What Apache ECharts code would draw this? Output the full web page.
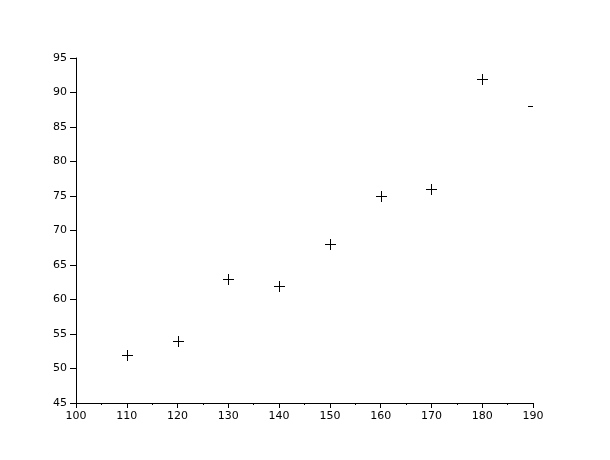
<!DOCTYPE html>
<html>
<head>
<meta charset="utf-8">
<script src="https://cdn.jsdelivr.net/npm/echarts@6/dist/echarts.min.js"></script>
<style>html,body{margin:0;padding:0;background:#fff}#c{width:610px;height:460px}</style>
</head>
<body>
<div id="c"></div>
<script>
var xValues = [110, 120, 130, 140, 150, 160, 170, 180, 190];
var yValues = [52, 54, 63, 62, 68, 75, 76, 92, 88];

var data = xValues.map(function (x, i) { return [x, yValues[i]]; });
var chart = echarts.init(document.getElementById('c'));
var axisCommon = {
  axisLine: { show: true, onZero: false, lineStyle: { color: '#000', width: 1 } },
  axisTick: { show: true, length: 6, lineStyle: { color: '#000' } },
  axisLabel: { color: '#000', fontSize: 11, fontFamily: 'DejaVu Sans', margin: 9 },
  splitLine: { show: false }
};
chart.setOption({
  animation: false,
  backgroundColor: '#fff',
  grid: { left: 76, right: 77, top: 58, bottom: 57, containLabel: false },
  xAxis: Object.assign({}, axisCommon, {
    type: 'value', min: 100, max: 190, interval: 10,
    axisTick: { show: true, length: 5, lineStyle: { color: '#000' } },
    minorTick: { show: true, splitNumber: 2, length: 2, lineStyle: { color: '#000' } },
    axisLabel: { color: '#000', fontSize: 11, fontFamily: 'DejaVu Sans', margin: 8 }
  }),
  yAxis: Object.assign({}, axisCommon, {
    type: 'value', min: 45, max: 95, interval: 5
  }),
  series: [{
    type: 'custom',
    clip: true,
    data: data,
    renderItem: function (params, api) {
      var p = api.coord([api.value(0), api.value(1)]);
      var cx = Math.round(p[0]), cy = Math.round(p[1]);
      var style = { stroke: '#000', lineWidth: 1 };
      return {
        type: 'group',
        children: [
          { type: 'line', shape: { x1: cx - 5, y1: cy + 0.5, x2: cx + 6, y2: cy + 0.5 }, style: style },
          { type: 'line', shape: { x1: cx + 0.5, y1: cy - 5, x2: cx + 0.5, y2: cy + 6 }, style: style }
        ]
      };
    }
  }]
});
</script>
</body>
</html>
